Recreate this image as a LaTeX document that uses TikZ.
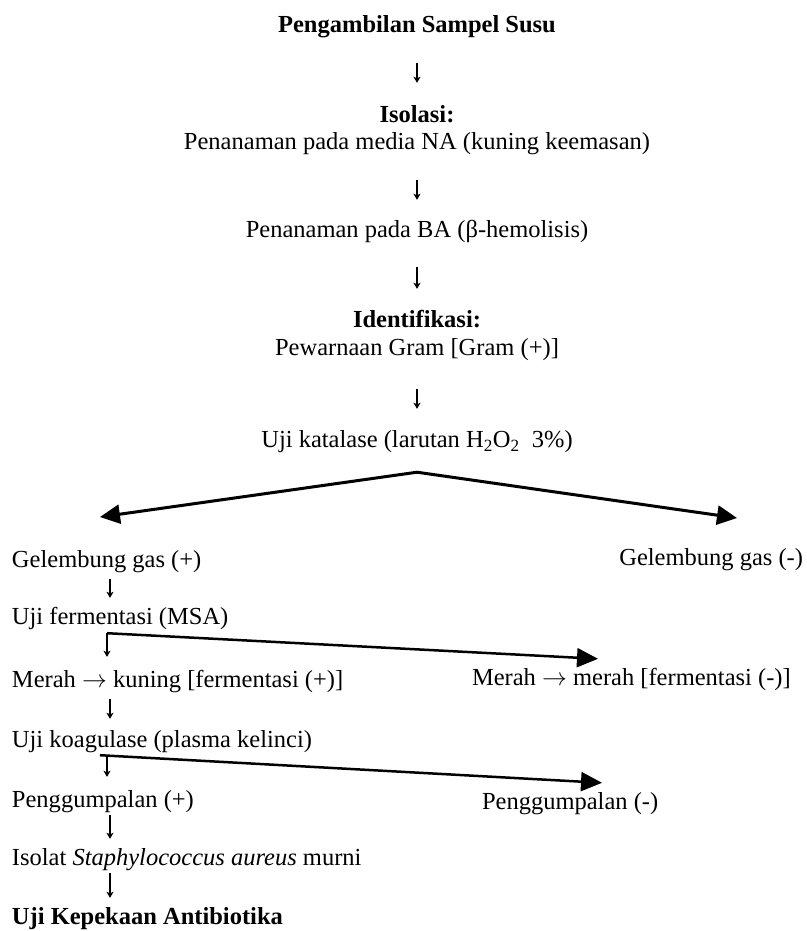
\documentclass[tikz,border=0pt]{standalone}
\usepackage{fontspec}
\setmainfont{Liberation Serif}
\usetikzlibrary{arrows.meta,calc}
\begin{document}
\begin{tikzpicture}[x=1pt,y=-1pt,
  txt/.style={inner sep=0pt, outer sep=0pt, font=\fontsize{24.5}{27}\selectfont, text height=17pt, text depth=5.4pt},
  bold/.style={txt, font=\fontsize{24.5}{27}\selectfont\bfseries},
  sarrow/.style={line width=1.1pt, -{Stealth[length=6pt,width=7pt,inset=1.5pt]}},
  bigarrow/.style={line width=3pt, -{Triangle[length=20pt,width=19pt]}},
  forkarrow/.style={line width=2.5pt, -{Triangle[length=21pt,width=19pt]}}]
\useasboundingbox (0,0) rectangle (806,931);

% centre column
\node[bold] (title) at (417,27) {Pengambilan Sampel Susu};
\node[bold] (isol)  at (417,117) {Isolasi:};
\node[txt]  (na)    at (417,144) {Penanaman pada media NA (kuning keemasan)};
\node[txt]  (ba)    at (417,232) {Penanaman pada BA (β-hemolisis)};
\node[bold] (ident) at (417,322) {Identifikasi:};
\node[txt]  (gram)  at (417,350) {Pewarnaan Gram [Gram (+)]};
\node[txt]  (kat)   at (417,442) {Uji katalase (larutan H\textsubscript{2}O\textsubscript{2}~~3\%)};

\draw[sarrow] ($(title.south)+(0,25)$) -- ($(isol.north)+(0,-23)$);
\draw[sarrow] ($(na.south)+(0,25)$) -- ($(ba.north)+(0,-21)$);
\draw[sarrow] ($(ba.south)+(0,24)$) -- ($(ident.north)+(0,-22)$);
\draw[sarrow] ($(gram.south)+(0,28)$) -- ($(kat.north)+(0,-22)$);

% split
\coordinate (apex) at ($(kat.south)+(0,19)$);
\coordinate (tipL) at (100,517);
\coordinate (tipR) at (737,518);
\draw[bigarrow] (apex) -- (tipL);
\draw[bigarrow] (apex) -- (tipR);

% left column
\node[txt, anchor=west] (gplus)  at (12,562) {Gelembung gas (+)};
\node[txt, anchor=east] (gminus) at (803,560) {Gelembung gas (-)};
\node[txt, anchor=west] (msa)    at (12,619) {Uji fermentasi (MSA)};
\node[txt, anchor=west] (mk)     at (12,682) {Merah $\rightarrow$ kuning [fermentasi (+)]};
\node[txt, anchor=west] (mm)     at (472,680) {Merah $\rightarrow$ merah [fermentasi (-)]};
\node[txt, anchor=west] (koag)   at (12,742) {Uji koagulase (plasma kelinci)};
\node[txt, anchor=west] (pplus)  at (12,802) {Penggumpalan (+)};
\node[txt, anchor=west] (pminus) at (482,804) {Penggumpalan (-)};
\node[txt, anchor=west] (isolat) at (12,860) {Isolat \textit{Staphylococcus aureus} murni};
\node[bold, anchor=west] (uji)   at (12,919) {Uji Kepekaan Antibiotika};

\draw[sarrow] ($(gplus.south west)+(98,6)$) -- ($(msa.north west)+(98,-10)$);
\draw[sarrow] ($(mk.south west)+(98,6)$) -- ($(koag.north west)+(98,-12)$);
\draw[sarrow] ($(pplus.south west)+(98,2)$) -- ($(isolat.north west)+(98,-10)$);
\draw[sarrow] ($(isolat.south west)+(98,2)$) -- ($(uji.north west)+(98,-10)$);

% fork 1
\coordinate (fork1) at ($(msa.south west)+(95,3)$);
\coordinate (tip1) at ($(mm.north west)+(126,-10)$);
\draw[forkarrow] (fork1) -- (tip1);
\draw[sarrow] ($(fork1)+(0,-0.5)$) -- ($(mk.north west)+(95,-14)$);

% fork 2
\coordinate (fork2) at ($(koag.south west)+(88,2)$);
\coordinate (tip2) at ($(pminus.north west)+(120,-10)$);
\draw[forkarrow] (fork2) -- (tip2);
\draw[sarrow] ($(fork2)+(7,0)$) -- ($(pplus.north west)+(95,-14)$);
\end{tikzpicture}
\end{document}
